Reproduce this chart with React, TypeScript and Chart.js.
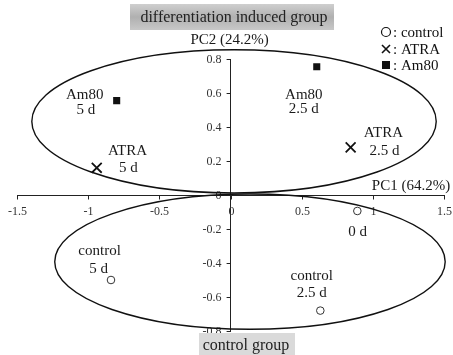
import React, { useEffect, useRef } from "react";
import { Chart, registerables } from "chart.js";

Chart.register(...registerables);

// ---- data ----
const controlX = [0.89, 0.63, -0.84];
const controlY = [-0.094, -0.68, -0.5];
const atraX = [0.843, -0.94];
const atraY = [0.28, 0.16];
const am80X = [0.605, -0.8];
const am80Y = [0.754, 0.555];

const xTickValues = [-1.5, -1, -0.5, 0, 0.5, 1, 1.5];
const xTickLabels = ["-1.5", "-1", "-0.5", "0", "0.5", "1", "1.5"];
const yTickValues = [-0.8, -0.6, -0.4, -0.2, 0, 0.2, 0.4, 0.6, 0.8];
const yTickLabels = ["-0.8", "-0.6", "-0.4", "-0.2", "0", "0.2", "0.4", "0.6", "0.8"];

const seriesNames = ["control", "ATRA", "Am80"];
const axisTitleX = "PC1 (64.2%)";
const axisTitleY = "PC2 (24.2%)";
const groupNames = ["differentiation induced group", "control group"];

// point annotation texts and their anchors (data units)
const noteTexts = ["Am80", "5 d", "Am80", "2.5 d", "ATRA", "5 d", "ATRA", "2.5 d", "0 d", "control", "5 d", "control", "2.5 d"];
const noteX = [-1.024, -1.017, 0.514, 0.514, -0.724, -0.717, 1.073, 1.08, 0.892, -0.92, -0.927, 0.57, 0.57];
const noteY = [0.585, 0.497, 0.585, 0.503, 0.257, 0.158, 0.363, 0.257, -0.216, -0.327, -0.433, -0.474, -0.579];

// group ellipses (data units)
const ellipseCx = [0.024, 0.136];
const ellipseCy = [0.433, -0.392];
const ellipseRx = [1.42, 1.371];
const ellipseRy = [0.421, 0.398];

const toPts = (xs: number[], ys: number[]) => xs.map((x, i) => ({ x, y: ys[i] }));

const SERIF = "'Liberation Serif', 'DejaVu Serif', serif";

const overlayPlugin = {
  id: "overlay",
  afterDatasetsDraw(chart: any) {
    const { ctx, chartArea, scales } = chart;
    const xs = scales.x;
    const ys = scales.y;
    const x0 = xs.getPixelForValue(0);
    const y0 = ys.getPixelForValue(0);
    ctx.save();

    // axis tick marks and labels
    ctx.strokeStyle = "#222";
    ctx.lineWidth = 1;
    ctx.fillStyle = "#333";
    ctx.font = `12px ${SERIF}`;
    ctx.textAlign = "right";
    ctx.textBaseline = "middle";
    for (let i = 0; i < yTickValues.length; i++) {
      const py = Math.round(ys.getPixelForValue(yTickValues[i])) + 0.5;
      ctx.beginPath();
      ctx.moveTo(x0 - 4, py);
      ctx.lineTo(x0, py);
      ctx.stroke();
      ctx.fillText(yTickLabels[i], x0 - 9, py);
    }
    ctx.textAlign = "center";
    const yAxisPx = Math.round(y0) + 0.5;
    for (let i = 0; i < xTickValues.length; i++) {
      const px = Math.round(xs.getPixelForValue(xTickValues[i])) + 0.5;
      ctx.beginPath();
      ctx.moveTo(px, yAxisPx);
      ctx.lineTo(px, yAxisPx + 4);
      ctx.stroke();
      ctx.fillText(xTickLabels[i], px, y0 + 17);
    }

    // ellipses
    ctx.strokeStyle = "#111";
    ctx.lineWidth = 1.4;
    for (let i = 0; i < ellipseCx.length; i++) {
      const cx = xs.getPixelForValue(ellipseCx[i]);
      const cy = ys.getPixelForValue(ellipseCy[i]);
      const rx = Math.abs(xs.getPixelForValue(ellipseCx[i] + ellipseRx[i]) - cx);
      const ry = Math.abs(ys.getPixelForValue(ellipseCy[i] + ellipseRy[i]) - cy);
      ctx.beginPath();
      ctx.ellipse(cx, cy, rx, ry, 0, 0, Math.PI * 2);
      ctx.stroke();
    }
    // annotations
    ctx.fillStyle = "#1a1a1a";
    ctx.font = `15px ${SERIF}`;
    ctx.textAlign = "center";
    ctx.textBaseline = "middle";
    for (let i = 0; i < noteTexts.length; i++) {
      ctx.fillText(noteTexts[i], xs.getPixelForValue(noteX[i]), ys.getPixelForValue(noteY[i]));
    }
    // axis titles
    ctx.font = `15px ${SERIF}`;
    ctx.textAlign = "center";
    ctx.fillText(axisTitleY, x0 - 1, chartArea.top - 19);
    ctx.textAlign = "right";
    ctx.fillText(axisTitleX, chartArea.right + 6, y0 - 9);

    // group boxes
    ctx.font = `16px ${SERIF}`;
    ctx.textAlign = "center";
    const g = ctx.createLinearGradient(0, 4, 0, 30);
    g.addColorStop(0, "#cfcfcf");
    g.addColorStop(0.5, "#b0b0b0");
    g.addColorStop(1, "#c8c8c8");
    ctx.fillStyle = g;
    ctx.fillRect(130, 4, 204, 26);
    ctx.fillStyle = "#222";
    ctx.fillText(groupNames[0], 234, 18);
    ctx.fillStyle = "#dadada";
    ctx.fillRect(199, 333, 96, 22);
    ctx.fillStyle = "#222";
    ctx.fillText(groupNames[1], 246, 346);

    // legend
    const lx = 386;
    const rows = [32, 49, 65];
    ctx.font = `15px ${SERIF}`;
    ctx.textAlign = "left";
    ctx.strokeStyle = "#111";
    ctx.lineWidth = 1.2;
    ctx.beginPath();
    ctx.arc(lx, rows[0], 4.5, 0, Math.PI * 2);
    ctx.stroke();
    ctx.lineWidth = 1.6;
    ctx.beginPath();
    ctx.moveTo(lx - 4, rows[1] - 4);
    ctx.lineTo(lx + 4, rows[1] + 4);
    ctx.moveTo(lx + 4, rows[1] - 4);
    ctx.lineTo(lx - 4, rows[1] + 4);
    ctx.stroke();
    ctx.fillStyle = "#111";
    ctx.fillRect(lx - 4, rows[2] - 4, 8, 8);
    for (let i = 0; i < seriesNames.length; i++) {
      ctx.fillText(": " + seriesNames[i], lx + 7, rows[i] + 1);
    }
    ctx.restore();
  },
};

export default function App() {
  const ref = useRef<HTMLCanvasElement | null>(null);
  useEffect(() => {
    if (!ref.current) return;
    const chart = new Chart(ref.current, {
      type: "scatter",
      data: {
        datasets: [
          {
            label: seriesNames[0],
            data: toPts(controlX, controlY),
            pointStyle: "circle",
            pointRadius: 3.8,
            backgroundColor: "#fff",
            borderColor: "#333",
            borderWidth: 1,
          },
          {
            label: seriesNames[1],
            data: toPts(atraX, atraY),
            pointStyle: "crossRot",
            pointRadius: 7,
            borderColor: "#111",
            borderWidth: 1.8,
          },
          {
            label: seriesNames[2],
            data: toPts(am80X, am80Y),
            pointStyle: "rect",
            pointRadius: 5,
            backgroundColor: "#111",
            borderColor: "#111",
            borderWidth: 0,
          },
        ],
      },
      options: {
        responsive: false,
        animation: false,
        layout: { padding: { left: 17, right: 7, top: 59, bottom: 24 } },
        plugins: { legend: { display: false }, tooltip: { enabled: false } },
        scales: {
          x: {
            type: "linear",
            min: -1.5,
            max: 1.5,
            position: { y: 0 } as any,
            afterBuildTicks: (axis: any) => {
              axis.ticks = xTickValues.map((v) => ({ value: v }));
            },
            ticks: { display: false },
            grid: { display: false },
            border: { display: true, color: "#222", width: 1 },
          },
          y: {
            type: "linear",
            min: -0.8,
            max: 0.8,
            position: { x: 0 } as any,
            afterBuildTicks: (axis: any) => {
              axis.ticks = yTickValues.map((v) => ({ value: v }));
            },
            ticks: { display: false },
            grid: { display: false },
            border: { display: true, color: "#222", width: 1 },
          },
        },
      },
      plugins: [overlayPlugin],
    });
    return () => chart.destroy();
  }, []);
  return (
    <canvas
      ref={ref}
      width={453}
      height={355}
      style={{ position: "fixed", left: 0, top: 0, width: 453, height: 355, background: "#fff" }}
    />
  );
}
